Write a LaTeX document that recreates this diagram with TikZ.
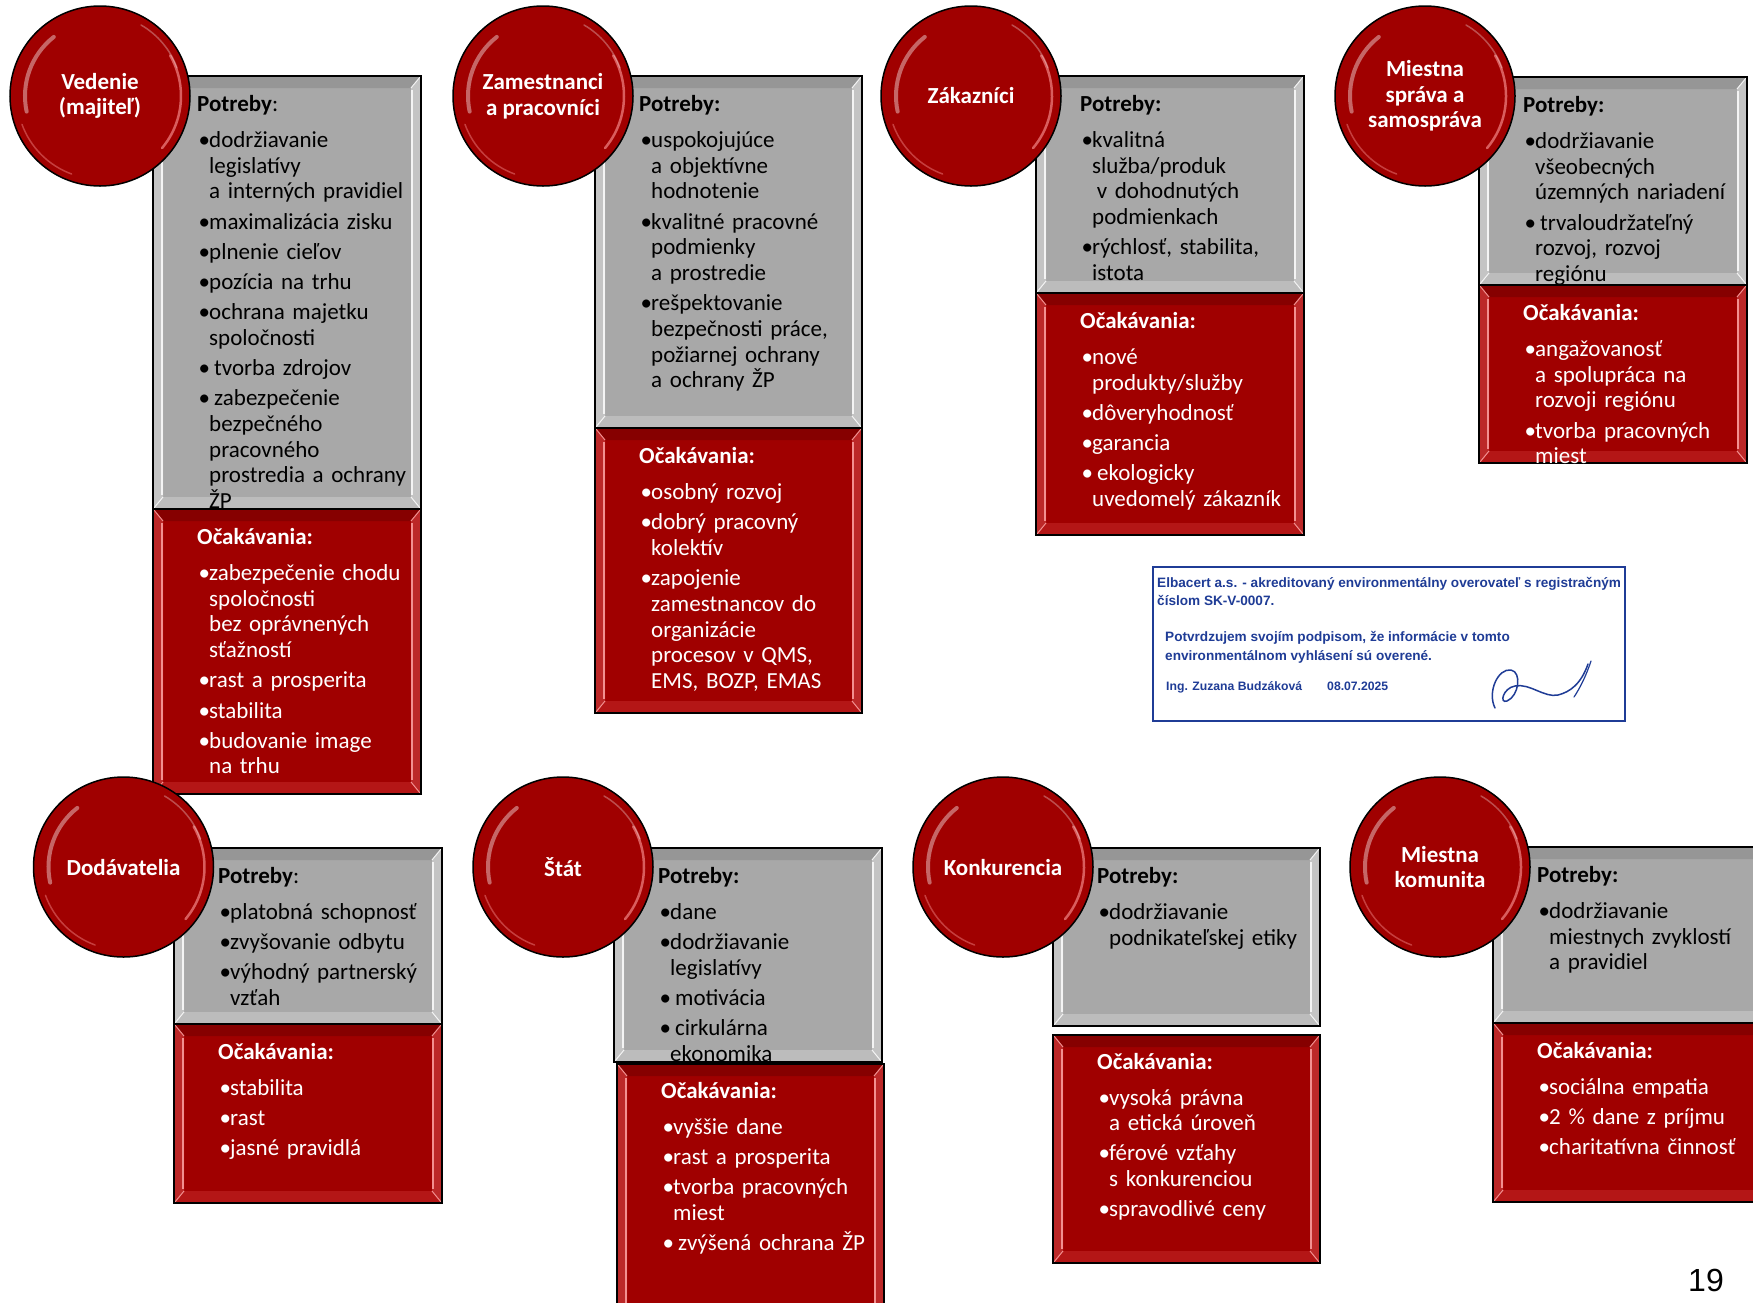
\documentclass[tikz,border=0pt]{standalone}
\usepackage{fontspec}
\setmainfont{Carlito}
\newfontfamily\arialf{Liberation Sans}
\setlength\parindent{0pt}
\setlength\parskip{0pt}
\definecolor{cred}{HTML}{A00000}
\definecolor{cgray}{HTML}{A8A8A8}
\definecolor{sigblue}{HTML}{1F3C96}
\definecolor{gside}{HTML}{C4C4C4}
\definecolor{gtop}{HTML}{969696}
\definecolor{gbot}{HTML}{BCBCBC}
\definecolor{ghl}{HTML}{F4F4F4}
\definecolor{rside}{HTML}{BC2828}
\definecolor{rtop}{HTML}{860000}
\definecolor{rbot}{HTML}{B41616}
\definecolor{rhl}{HTML}{F29090}
\definecolor{pinkhl}{HTML}{FF9C9C}
\tikzset{
  circ/.style={circle, fill=cred, draw=black, line width=1.5pt, minimum size=180pt, inner sep=0pt,
    text=white, align=center, font=\fontsize{23}{25.7}\selectfont\bfseries},
  gbox/.style={fill=cgray, draw=none, inner sep=0pt, outer sep=0pt},
  rbox/.style={fill=cred, draw=none, inner sep=0pt, outer sep=0pt},
  btxt/.style={anchor=north west, inner sep=0pt, text width=262pt,
    font=\fontsize{23}{25.7}\selectfont},
  wtxt/.style={btxt, text=white},
  sigtxt/.style={anchor=base west, inner sep=0pt, text=sigblue, font=\arialf\bfseries\fontsize{13.6}{16}\selectfont},
}
\newcommand\hd[1]{\noindent\rule{0pt}{20pt}#1\par\vspace{5.6pt}}
\newcommand\itm[1]{\par\vspace{4.5pt}\hangindent=12pt \hangafter=1 \noindent\makebox[12pt][l]{\hspace{1.5pt}•}#1}
\newcommand\itms[1]{\par\vspace{4.5pt}\hangindent=12pt \hangafter=1 \noindent\makebox[12pt][l]{\hspace{1.5pt}•}\hspace{5pt}#1}
% box with bevel: name, x1, y1, x2, y2, kind (g/r)
\newcommand\bx[6]{%
  \node[#6box, anchor=north west, minimum width={(#4-#2)*1pt}, minimum height={(#5-#3)*1pt}] (#1) at (#2,#3) {};
  \fill[#6side] (#2,#3) -- (#2+10,#3+12) -- (#2+10,#5-12) -- (#2,#5) -- cycle;
  \fill[#6side] (#4,#3) -- (#4-10,#3+12) -- (#4-10,#5-12) -- (#4,#5) -- cycle;
  \fill[#6top] (#2,#3) -- (#4,#3) -- (#4-10,#3+12) -- (#2+10,#3+12) -- cycle;
  \fill[#6bot] (#2,#5) -- (#4,#5) -- (#4-10,#5-12) -- (#2+10,#5-12) -- cycle;
  \draw[#6hl, line width=2.4pt] (#2+9,#3+14) -- (#2+9,#5-14);
  \draw[#6hl, line width=2.4pt] (#4-9,#3+14) -- (#4-9,#5-14);
  \draw[#6hl, line width=1pt] (#2+1,#3+1) -- (#2+10,#3+12) (#4-1,#3+1) -- (#4-10,#3+12)
     (#2+1,#5-1) -- (#2+10,#5-12) (#4-1,#5-1) -- (#4-10,#5-12);
  \draw[black, line width=1.5pt] (#1.north west) rectangle (#1.south east);
}
\newcommand\gloss[1]{%
  \draw[white, opacity=.4, line width=4pt, line cap=round] (#1.center) ++(-128:75) arc[start angle=-128, end angle=-192, radius=75];
  \draw[pinkhl, opacity=.6, line width=2.5pt, line cap=round] (#1.center) ++(40:81) arc[start angle=40, end angle=-30, radius=81];
  \draw[pinkhl, opacity=.4, line width=1.5pt, line cap=round] (#1.center) ++(-200:83) arc[start angle=-200, end angle=-250, radius=83];
  \draw[white, opacity=.3, line width=1.5pt, line cap=round] (#1.center) ++(-60:82) arc[start angle=-60, end angle=-20, radius=82];
}
\begin{document}
\begin{tikzpicture}[x=1pt,y=-1pt]
\useasboundingbox (0,0) rectangle (1753,1302);
\fill[white] (0,0) rectangle (1753,1302);
\clip (0,0) rectangle (1753,1302);

% ---- boxes ----
\bx{g1}{153}{76}{421}{509}{g}
\bx{r1}{153}{509}{421}{794}{r}
\bx{g2}{595}{76}{862}{428}{g}
\bx{r2}{595}{428}{862}{713}{r}
\bx{g3}{1036}{76}{1304}{293}{g}
\bx{r3}{1036}{293}{1304}{535}{r}
\bx{g4}{1479}{77}{1747}{285}{g}
\bx{r4}{1479}{285}{1747}{463}{r}
\bx{g5}{174}{848}{442}{1024}{g}
\bx{r5}{174}{1024}{442}{1203}{r}
\bx{g6}{614}{848}{882}{1062}{g}
\bx{r6}{617}{1064}{884}{1325}{r}
\bx{g7}{1053}{848}{1320}{1026}{g}
\bx{r7}{1053}{1035}{1320}{1263}{r}
\bx{g8}{1493}{847}{1765}{1023}{g}
\bx{r8}{1493}{1023}{1765}{1202}{r}

% ---- texts ----
\node[btxt] (tg1) at (197,91.5) {\hd{\textbf{Potreby}:}%
\itm{dodržiavanie\newline legislatívy\newline a interných pravidiel}%
\itm{maximalizácia zisku}%
\itm{plnenie cieľov}%
\itm{pozícia na trhu}%
\itm{ochrana majetku\newline spoločnosti}%
\itms{tvorba zdrojov}%
\itms{zabezpečenie\newline bezpečného\newline pracovného\newline prostredia a ochrany\newline ŽP}\par};
\node[wtxt] (tr1) at (197,524.5) {\hd{\textbf{Očakávania:}}%
\itm{zabezpečenie chodu\newline spoločnosti\newline bez oprávnených\newline sťažností}%
\itm{rast a prosperita}%
\itm{stabilita}%
\itm{budovanie image\newline na trhu}\par};

\node[btxt] (tg2) at (639,91.5) {\hd{\textbf{Potreby:}}%
\itm{uspokojujúce\newline a objektívne\newline hodnotenie}%
\itm{kvalitné pracovné\newline podmienky\newline a prostredie}%
\itm{rešpektovanie\newline bezpečnosti práce,\newline požiarnej ochrany\newline a ochrany ŽP}\par};
\node[wtxt] (tr2) at (639,443.5) {\hd{\textbf{Očakávania:}}%
\itm{osobný rozvoj}%
\itm{dobrý pracovný\newline kolektív}%
\itm{zapojenie\newline zamestnancov do\newline organizácie\newline procesov v QMS,\newline EMS, BOZP, EMAS}\par};

\node[btxt] (tg3) at (1080,91.5) {\hd{\textbf{Potreby:}}%
\itm{kvalitná\newline služba/produk\newline\hspace*{4.6pt}v dohodnutých\newline podmienkach}%
\itm{rýchlosť, stabilita,\newline istota}\par};
\node[wtxt] (tr3) at (1080,308.5) {\hd{\textbf{Očakávania:}}%
\itm{nové\newline produkty/služby}%
\itm{dôveryhodnosť}%
\itm{garancia}%
\itms{ekologicky\newline uvedomelý zákazník}\par};

\node[btxt] (tg4) at (1523,92.5) {\hd{\textbf{Potreby:}}%
\itm{dodržiavanie\newline všeobecných\newline územných nariadení}%
\itms{trvaloudržateľný\newline rozvoj, rozvoj\newline regiónu}\par};
\node[wtxt] (tr4) at (1523,300.5) {\hd{\textbf{Očakávania:}}%
\itm{angažovanosť\newline a spolupráca na\newline rozvoji regiónu}%
\itm{tvorba pracovných\newline miest}\par};

\node[btxt] (tg5) at (218,863.5) {\hd{\textbf{Potreby}:}%
\itm{platobná schopnosť}%
\itm{zvyšovanie odbytu}%
\itm{výhodný partnerský\newline vzťah}\par};
\node[wtxt] (tr5) at (218,1039.5) {\hd{\textbf{Očakávania:}}%
\itm{stabilita}%
\itm{rast}%
\itm{jasné pravidlá}\par};

\node[btxt] (tg6) at (658,863.5) {\hd{\textbf{Potreby:}}%
\itm{dane}%
\itm{dodržiavanie\newline legislatívy}%
\itms{motivácia}%
\itms{cirkulárna\newline ekonomika}\par};
\node[wtxt] (tr6) at (661,1078) {\hd{\textbf{Očakávania:}}%
\itm{vyššie dane}%
\itm{rast a prosperita}%
\itm{tvorba pracovných\newline miest}%
\itms{zvýšená ochrana ŽP}\par};

\node[btxt] (tg7) at (1097,863.5) {\hd{\textbf{Potreby:}}%
\itm{dodržiavanie\newline podnikateľskej etiky}\par};
\node[wtxt] (tr7) at (1097,1049) {\hd{\textbf{Očakávania:}}%
\itm{vysoká právna\newline a etická úroveň}%
\itm{férové vzťahy\newline s konkurenciou}%
\itm{spravodlivé ceny}\par};

\node[btxt] (tg8) at (1537,862.5) {\hd{\textbf{Potreby:}}%
\itm{dodržiavanie\newline miestnych zvyklostí\newline a pravidiel}\par};
\node[wtxt] (tr8) at (1537,1038.5) {\hd{\textbf{Očakávania:}}%
\itm{sociálna empatia}%
\itm{2 \% dane z príjmu}%
\itm{charitatívna činnosť}\par};

% ---- circles ----
\node[circ] (c1) at (100,96) {Vedenie\\(majiteľ)}; \gloss{c1}
\node[circ] (c2) at (543,96) {Zamestnanci\\a pracovníci}; \gloss{c2}
\node[circ] (c3) at (971,96) {Zákazníci}; \gloss{c3}
\node[circ] (c4) at (1425,96) {Miestna\\správa a\\samospráva}; \gloss{c4}
\node[circ] (c5) at (123.5,867) {Dodávatelia}; \gloss{c5}
\node[circ] (c6) at (563,867) {Štát}; \gloss{c6}
\node[circ] (c7) at (1003,867) {Konkurencia}; \gloss{c7}
\node[circ] (c8) at (1440,867) {Miestna\\komunita}; \gloss{c8}

% ---- verification stamp ----
\node[draw=sigblue, line width=2.2pt, fill=white, anchor=north west, inner sep=0pt,
  minimum width=472pt, minimum height=154pt] (sig) at (1152,566) {};
\node[sigtxt] (e1) at (1157,587) {Elbacert a.s. - akreditovaný environmentálny overovateľ s registračným};
\node[sigtxt] (e2) at (1157,605) {číslom SK-V-0007.};
\node[sigtxt] (p1) at (1165,641.5) {Potvrdzujem svojím podpisom, že informácie v tomto};
\node[sigtxt] (p2) at (1165,660) {environmentálnom vyhlásení sú overené.};
\node[sigtxt, font=\arialf\bfseries\fontsize{12.2}{15}\selectfont] (ing) at (1166,690.5) {Ing. Zuzana Budzáková};
\node[sigtxt, font=\arialf\bfseries\fontsize{12.2}{15}\selectfont] (dt) at (1327,690.5) {08.07.2025};
\draw[sigblue, line width=1.5pt, line cap=round, line join=round]
  (1495,708) .. controls (1487,692) and (1498,668) .. (1511,670)
  .. controls (1522,672) and (1519,696) .. (1507,701)
  .. controls (1499,704) and (1503,688) .. (1515,686)
  .. controls (1530,683) and (1544,698) .. (1558,695)
  .. controls (1570,692) and (1581,684) .. (1588,664);
\draw[sigblue, line width=1.2pt, line cap=round] (1574,697) .. controls (1580,688) and (1586,676) .. (1591,661);

% ---- page number ----
\node[anchor=base, inner sep=0pt, font=\arialf\fontsize{32}{36}\selectfont] (pg) at (1706,1291.5) {19};
\end{tikzpicture}
\end{document}
